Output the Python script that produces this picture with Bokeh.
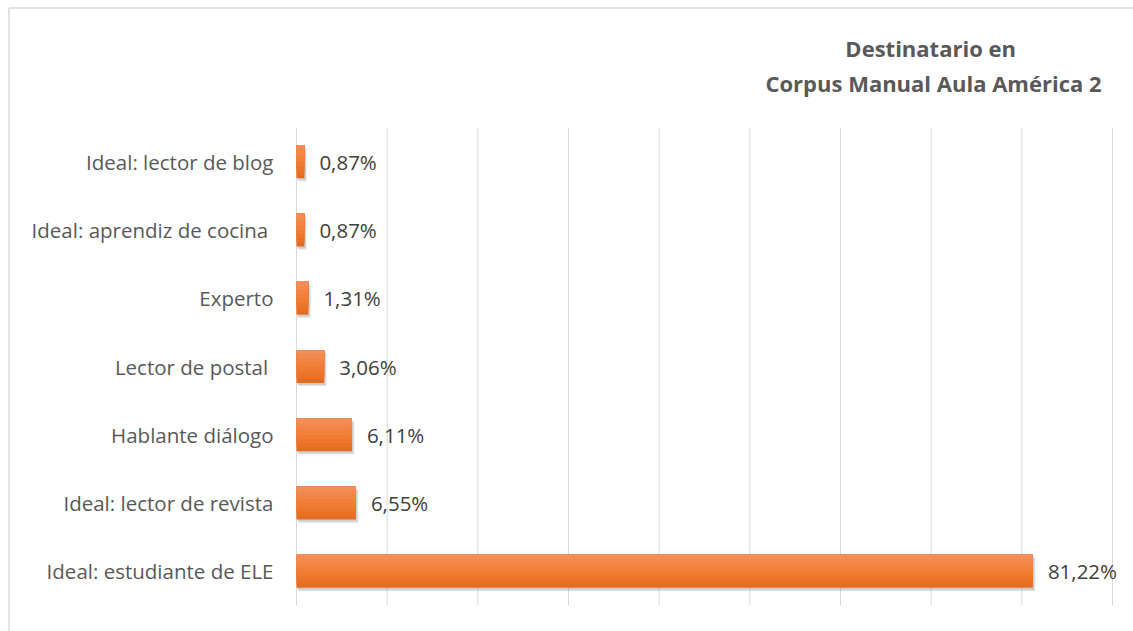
from bokeh.plotting import figure
from bokeh.models import ColumnDataSource
from bokeh.core.properties import value
from bokeh.transform import dodge
from bokeh.embed import file_html
from bokeh.resources import INLINE

categories = ["Ideal: estudiante de ELE", "Ideal: lector de revista", "Hablante diálogo",
              "Lector de postal ", "Experto", "Ideal: aprendiz de cocina ", "Ideal: lector de blog"]
values = [81.22, 6.55, 6.11, 3.06, 1.31, 0.87, 0.87]
grid_ticks = [0, 10, 20, 30, 40, 50, 60, 70, 80, 90]
title_lines = ["Destinatario  en", "Corpus Manual Aula América 2"]

ys = list(range(len(categories)))
labels = [f"{v:.2f}".replace(".", ",") + "%" for v in values]
src = ColumnDataSource(dict(y=ys, v=values, lab=labels, cat=categories))

# layout (pixels) -> data ranges; frame covers the whole canvas
W, Hc = 1133, 631
bl, bt = 8.5, 7.5                      # outer chart border (left / top) in px
pl, pr, pt, pb = 296, 1112, 127, 605   # plot area in px
xmax = grid_ticks[-1]
kx = (pr - pl) / xmax
ky = (pb - pt) / len(categories)
ytop = len(categories) - 0.5


def px_x(px):
    return (px - pl) / kx


def px_y(py):
    return ytop + (pt - py) / ky


FONT = "Open Sans"
p = figure(width=W, height=Hc, output_backend="svg", toolbar_location=None,
           x_range=(px_x(0), px_x(W)), y_range=(px_y(Hc), px_y(0)),
           min_border_left=0, min_border_top=0, min_border_right=0, min_border_bottom=0)
p.axis.visible = False
p.grid.visible = False
p.outline_line_color = None
p.background_fill_color = "white"
p.border_fill_color = "white"

# outer chart border (left and top edges visible in the window)
p.segment(x0=[px_x(bl), px_x(bl)], y0=[px_y(bt), px_y(bt)],
          x1=[px_x(bl), px_x(W + 10)], y1=[px_y(Hc + 10), px_y(bt)],
          line_color="#d9d9d9", line_width=1.5)

# vertical gridlines
p.segment(x0=grid_ticks, x1=grid_ticks, y0=-0.5, y1=ytop,
          line_color="#d9d9d9", line_width=1)

H = 0.483
# soft shadow
p.hbar(y=dodge("y", -0.045), right=dodge("v", 0.25), left=0.2, height=H, source=src,
       fill_color="#808080", fill_alpha=0.22, line_color=None)
p.hbar(y=dodge("y", -0.03), right=dodge("v", 0.15), left=0.1, height=H, source=src,
       fill_color="#808080", fill_alpha=0.2, line_color=None)
# gradient: layered bars, each covering from the top down (no seams)
grad = ["#e36c20", "#e87226", "#ec772c", "#ef7c32", "#f1813a", "#f28543", "#f28a4d", "#f18e58"]
n = len(grad)
for i, c in enumerate(grad):
    hh = H * (n - i) / n
    p.hbar(y=dodge("y", H / 2 - hh / 2), right="v", left=0, height=hh, source=src,
           fill_color=c, line_color=None)

# value labels
p.text(x="v", y="y", text="lab", source=src, x_offset=15, text_baseline="middle",
       text_align="left", text_font=value(FONT), text_font_size="20.5px", text_color="#404040")
# category labels
p.text(x=0, y="y", text="cat", source=src, x_offset=-23, text_baseline="middle",
       text_align="right", text_font=value(FONT), text_font_size="20.5px", text_color="#595959")

# title
tx = px_x(933)
p.text(x=[tx, tx], y=[px_y(47), px_y(82)], text=title_lines, text_align="center",
       text_baseline="middle", text_font=value(FONT), text_font_size="22px",
       text_font_style="bold", text_color="#595959")

open("out.html", "w").write(file_html(p, INLINE))
